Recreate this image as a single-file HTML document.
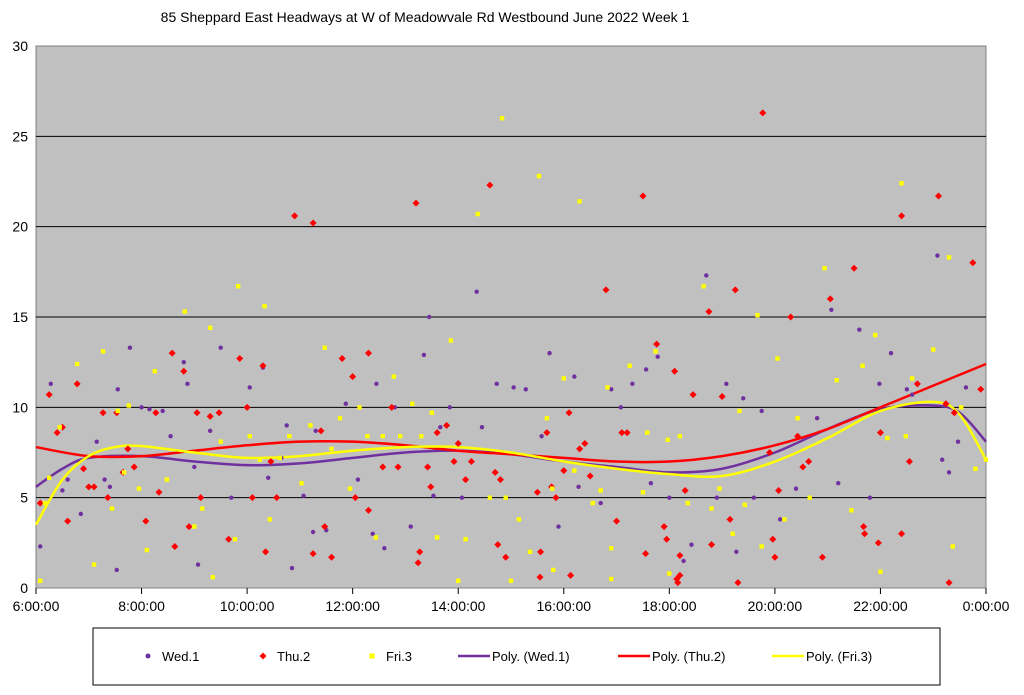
<!DOCTYPE html>
<html><head><meta charset="utf-8"><style>
body{margin:0;background:#fff;width:1024px;height:690px;overflow:hidden;font-family:"Liberation Sans",Arial,sans-serif}
svg text{font-family:"Liberation Sans",Arial,sans-serif}
</style></head><body>
<svg id="chart" width="1024" height="690" xmlns="http://www.w3.org/2000/svg">
<text x="425" y="22" font-size="14" text-anchor="middle" fill="#000">85 Sheppard East Headways at W of Meadowvale Rd Westbound June 2022  Week 1</text>
<rect x="36" y="46" width="950" height="542" fill="#c0c0c0" stroke="#808080"/>
<g id="grid"></g><g id="axes"></g><g id="lines"></g><g id="pts"></g>
<rect x="93" y="628" width="847" height="57" fill="#fff" stroke="#000"/>
<g id="legend"></g>
</svg>
<script>
const yTicks=[0,5,10,15,20,25,30];
const xTickLabels=["6:00:00","8:00:00","10:00:00","12:00:00","14:00:00","16:00:00","18:00:00","20:00:00","22:00:00","0:00:00"];
const xTickHours=[6,8,10,12,14,16,18,20,22,24];
const wedH=[6.08,6.28,6.5,6.6,6.85,7.15,7.3,7.4,7.53,7.55,7.78,8.0,8.15,8.4,8.55,8.8,8.87,9.0,9.07,9.3,9.5,9.7,10.05,10.3,10.4,10.65,10.75,10.85,11.07,11.25,11.3,11.5,11.87,12.1,12.38,12.45,12.6,12.8,13.1,13.35,13.45,13.53,13.66,13.84,14.07,14.35,14.45,14.73,15.05,15.28,15.58,15.73,15.9,16.2,16.28,16.7,16.9,17.08,17.3,17.56,17.65,17.78,18.0,18.27,18.42,18.7,18.9,19.08,19.27,19.4,19.6,19.75,20.1,20.4,20.8,21.07,21.2,21.6,21.8,21.98,22.2,22.5,22.6,23.08,23.17,23.3,23.47,23.62];
const wedV=[2.3,11.3,5.4,6.0,4.1,8.1,6.0,5.6,1.0,11.0,13.3,10.0,9.9,9.8,8.4,12.5,11.3,6.7,1.3,8.7,13.3,5.0,11.1,12.2,6.1,7.2,9.0,1.1,5.1,3.1,8.7,3.2,10.2,6.0,3.0,11.3,2.2,10.0,3.4,12.9,15.0,5.1,8.9,10.0,5.0,16.4,8.9,11.3,11.1,11.0,8.4,13.0,3.4,11.7,5.6,4.7,11.0,10.0,11.3,12.1,5.8,12.8,5.0,1.5,2.4,17.3,5.0,11.3,2.0,10.5,5.0,9.8,3.8,5.5,9.4,15.4,5.8,14.3,5.0,11.3,13.0,11.0,10.7,18.4,7.1,6.4,8.1,11.1];
const thuH=[6.08,6.25,6.4,6.5,6.6,6.78,6.9,7.0,7.1,7.27,7.36,7.53,7.65,7.74,7.86,8.08,8.27,8.33,8.58,8.63,8.8,8.9,9.05,9.12,9.3,9.47,9.65,9.86,10.0,10.1,10.3,10.35,10.45,10.56,10.9,11.25,11.25,11.4,11.47,11.6,11.8,12.0,12.05,12.3,12.3,12.57,12.74,12.86,13.2,13.24,13.27,13.42,13.48,13.6,13.78,13.92,14.0,14.14,14.25,14.6,14.7,14.8,14.9,14.75,15.5,15.55,15.56,15.68,15.77,15.85,16.0,16.1,16.13,16.3,16.4,16.5,16.8,17.0,17.1,17.2,17.5,17.55,17.76,17.9,17.95,18.1,18.14,18.16,18.2,18.2,18.3,18.45,18.75,18.8,19.0,19.15,19.25,19.3,19.77,19.9,19.96,20.0,20.07,20.3,20.43,20.53,20.64,20.9,21.05,21.5,21.68,21.7,21.96,22.0,22.4,22.4,22.55,22.7,23.1,23.24,23.3,23.4,23.75,23.9];
const thuV=[4.7,10.7,8.6,8.9,3.7,11.3,6.6,5.6,5.6,9.7,5.0,9.7,6.4,7.7,6.7,3.7,9.7,5.3,13.0,2.3,12.0,3.4,9.7,5.0,9.5,9.7,2.7,12.7,10.0,5.0,12.3,2.0,7.0,5.0,20.6,20.2,1.9,8.7,3.4,1.7,12.7,11.7,5.0,13.0,4.3,6.7,10.0,6.7,21.3,1.4,2.0,6.7,5.6,8.6,9.0,7.0,8.0,6.0,7.0,22.3,6.4,6.0,1.7,2.4,5.3,0.6,2.0,8.6,5.6,5.0,6.5,9.7,0.7,7.7,8.0,6.2,16.5,3.7,8.6,8.6,21.7,1.9,13.5,3.4,2.7,12.0,0.5,0.3,0.7,1.8,5.4,10.7,15.3,2.4,10.6,3.8,16.5,0.3,26.3,7.5,2.7,1.7,5.4,15.0,8.4,6.7,7.0,1.7,16.0,17.7,3.4,3.0,2.5,8.6,20.6,3.0,7.0,11.3,21.7,10.2,0.3,9.7,18.0,11.0];
const friH=[6.08,6.17,6.25,6.45,6.78,7.1,7.27,7.44,7.55,7.67,7.76,7.95,8.1,8.25,8.48,8.82,9.0,9.15,9.3,9.35,9.5,9.77,9.83,10.05,10.24,10.33,10.43,10.62,10.8,11.03,11.2,11.47,11.6,11.76,11.95,12.13,12.28,12.44,12.57,12.78,12.9,13.13,13.3,13.5,13.6,13.86,14.0,14.14,14.37,14.6,14.83,14.9,15.0,15.15,15.36,15.53,15.68,15.78,15.8,16.0,16.2,16.3,16.55,16.7,16.83,16.9,16.9,17.25,17.5,17.58,17.74,17.97,18.0,18.2,18.35,18.65,18.8,18.95,19.2,19.33,19.43,19.67,19.75,20.05,20.18,20.43,20.66,20.94,21.17,21.45,21.66,21.9,22.0,22.13,22.4,22.48,22.6,23.0,23.3,23.37,23.53,23.8,24.0];
const friV=[0.4,4.7,6.1,8.9,12.4,1.3,13.1,4.4,9.8,6.4,10.1,5.5,2.1,12.0,6.0,15.3,3.4,4.4,14.4,0.6,8.1,2.7,16.7,8.4,7.1,15.6,3.8,7.2,8.4,5.8,9.0,13.3,7.7,9.4,5.5,10.0,8.4,2.8,8.4,11.7,8.4,10.2,8.4,9.7,2.8,13.7,0.4,2.7,20.7,5.0,26.0,5.0,0.4,3.8,2.0,22.8,9.4,5.5,1.0,11.6,6.5,21.4,4.7,5.4,11.1,2.2,0.5,12.3,5.3,8.6,13.1,8.2,0.8,8.4,4.7,16.7,4.4,5.5,3.0,9.8,4.6,15.1,2.3,12.7,3.8,9.4,5.0,17.7,11.5,4.3,12.3,14.0,0.9,8.3,22.4,8.4,11.6,13.2,18.3,2.3,10.0,6.6,7.1];
const trendH=[6,7,8,9,10,11,12,13,14,15,16,17,18,19,20,21,22,23,24];
const thuTrend=[7.8,7.3,7.3,7.6,7.9,8.1,8.1,7.9,7.6,7.4,7.2,7.0,7.0,7.3,7.9,8.8,10.0,11.2,12.4];
const wedTrendH=[6,6.5,7,8,9,10,11,12,13,14,15,16,17,18,19,20,21,22,23,23.5,24];
const wedTrend=[5.6,6.6,7.2,7.3,7.0,6.8,6.9,7.2,7.5,7.6,7.4,7.0,6.7,6.4,6.6,7.5,8.8,9.9,10.1,9.7,8.1];
const friTrendH=[6,6.5,7,7.5,8,9,10,11,12,13,14,15,16,17,18,19,20,21,22,23,23.5,24];
const friTrend=[3.5,6.0,7.3,7.8,7.85,7.5,7.2,7.3,7.6,7.8,7.8,7.5,7.0,6.6,6.3,6.2,7.0,8.3,9.8,10.3,9.6,7.1];

const NS="http://www.w3.org/2000/svg";
const X=h=>36+(h-6)*950/18, Y=v=>588-v*542/30;
function mk(tag,attrs,parent){const e=document.createElementNS(NS,tag);for(const k in attrs)e.setAttribute(k,attrs[k]);document.getElementById(parent).appendChild(e);return e;}
yTicks.forEach(v=>{
  if(v>0&&v<30){const l=mk('line',{x1:36,x2:986,y1:Y(v),y2:Y(v),stroke:'#000','stroke-width':1},'grid');
  
  }
  const t=mk('text',{x:28,y:Y(v)+5,'font-size':14,'text-anchor':'end'},'axes');t.textContent=v;
  
  
});
xTickHours.forEach((h,i)=>{
  mk('line',{x1:X(h),x2:X(h),y1:588,y2:594,stroke:'#000'},'axes');
  const t=mk('text',{x:X(h),y:611,'font-size':14,'text-anchor':'middle'},'axes');t.textContent=xTickLabels[i];
  
  
});
function smooth(hs,vs){const p=hs.map((h,i)=>[X(h),Y(vs[i])]);let d='M'+p[0][0]+','+p[0][1];
 for(let i=0;i<p.length-1;i++){const p0=p[Math.max(0,i-1)],p1=p[i],p2=p[i+1],p3=p[Math.min(p.length-1,i+2)];
 d+=' C'+(p1[0]+(p2[0]-p0[0])/6)+','+(p1[1]+(p2[1]-p0[1])/6)+' '+(p2[0]-(p3[0]-p1[0])/6)+','+(p2[1]-(p3[1]-p1[1])/6)+' '+p2[0]+','+p2[1];}
 return d;}
wedH.forEach((h,i)=>{const c=mk('circle',{cx:X(h),cy:Y(wedV[i]),r:2.2,fill:'#7030a0'},'pts');
 
 });
thuH.forEach((h,i)=>{const x=X(h),y=Y(thuV[i]);const c=mk('polygon',{points:`${x},${y-3.5} ${x+3.5},${y} ${x},${y+3.5} ${x-3.5},${y}`,fill:'#ff0000'},'pts');
 
 });
friH.forEach((h,i)=>{const c=mk('rect',{x:X(h)-2.2,y:Y(friV[i])-2.2,width:4.4,height:4.4,fill:'#ffff00'},'pts');
 
 });
const l1=mk('path',{d:smooth(wedTrendH,wedTrend),fill:'none',stroke:'#7030a0','stroke-width':2.5},'lines');


const l2=mk('path',{d:smooth(trendH,thuTrend),fill:'none',stroke:'#ff0000','stroke-width':2.5},'lines');


const l3=mk('path',{d:smooth(friTrendH,friTrend),fill:'none',stroke:'#ffff00','stroke-width':2.5},'lines');


// legend
const ly=656;
const leg=[["Wed.1",148,'c','#7030a0'],["Thu.2",263,'d','#ff0000'],["Fri.3",372,'s','#ffff00'],["Poly. (Wed.1)",458,'l','#7030a0'],["Poly. (Thu.2)",618,'l','#ff0000'],["Poly. (Fri.3)",772,'l','#ffff00']];
leg.forEach(e=>{const [n,x,t,c]=e;
 if(t==='c')mk('circle',{cx:x,cy:ly,r:2.5,fill:c},'legend');
 if(t==='d')mk('polygon',{points:`${x},${ly-3.5} ${x+3.5},${ly} ${x},${ly+3.5} ${x-3.5},${ly}`,fill:c},'legend');
 if(t==='s')mk('rect',{x:x-2.5,y:ly-2.5,width:5,height:5,fill:c},'legend');
 if(t==='l')mk('line',{x1:x,x2:x+32,y1:ly,y2:ly,stroke:c,'stroke-width':2.5},'legend');
 const tx=mk('text',{x:t==='l'?x+34:x+14,y:ly+5,'font-size':13},'legend');tx.textContent=n;
 
 
});
</script>
</body></html>
